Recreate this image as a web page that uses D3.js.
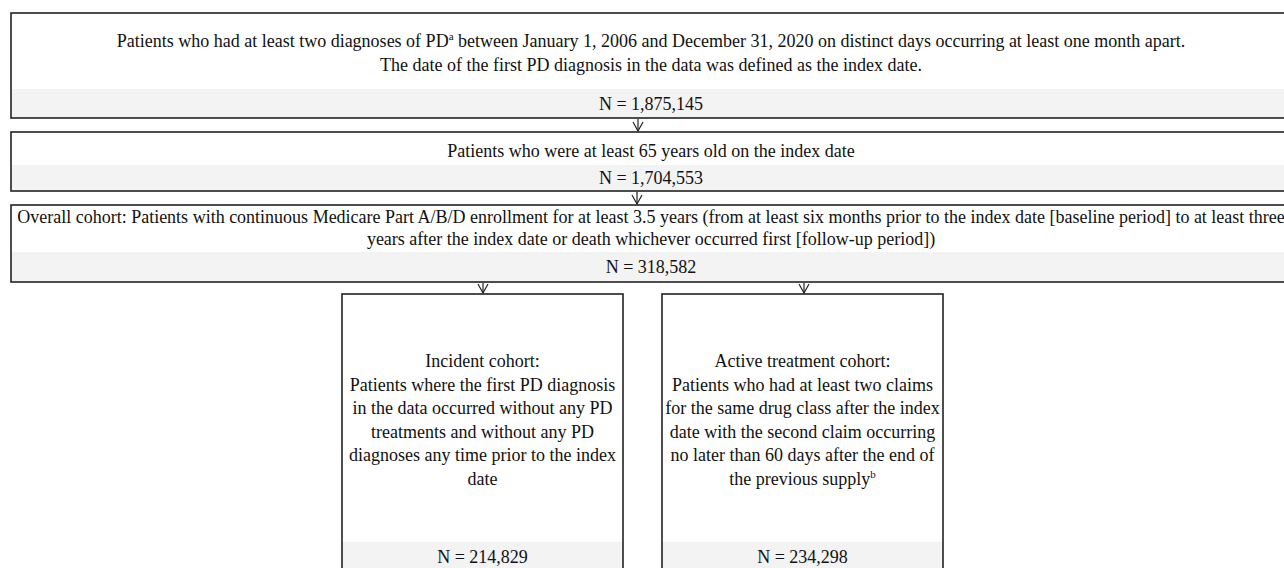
<!DOCTYPE html>
<html><head><meta charset="utf-8">
<script src="https://cdn.jsdelivr.net/npm/d3@7"></script>
<style>
body{margin:0;background:#fff}
svg{display:block}
text{font-family:"Liberation Serif","Times New Roman",serif;fill:#111;font-size:18px}
</style>
</head><body>
<svg id="c" width="1284" height="568"></svg>
<script>
// ---- data ----
const boxIds = ["pd", "age", "overall", "incident", "active"];
// each line is a list of [text, superscript]
const boxTexts = [
  [[["Patients who had at least two diagnoses of PD", "a"], [" between January 1, 2006 and December 31, 2020 on distinct days occurring at least one month apart.", ""]],
   [["The date of the first PD diagnosis in the data was defined as the index date.", ""]]],
  [[["Patients who were at least 65 years old on the index date", ""]]],
  [[["Overall cohort: Patients with continuous Medicare Part A/B/D enrollment for at least 3.5 years (from at least six months prior to the index date [baseline period] to at least three", ""]],
   [["years after the index date or death whichever occurred first [follow-up period])", ""]]],
  [[["Incident cohort:", ""]],
   [["Patients where the first PD diagnosis", ""]],
   [["in the data occurred without any PD", ""]],
   [["treatments and without any PD", ""]],
   [["diagnoses any time prior to the index", ""]],
   [["date", ""]]],
  [[["Active treatment cohort:", ""]],
   [["Patients who had at least two claims", ""]],
   [["for the same drug class after the index", ""]],
   [["date with the second claim occurring", ""]],
   [["no later than 60 days after the end of", ""]],
   [["the previous supply", "b"]]]
];
const boxCounts = [1875145, 1704553, 318582, 214829, 234298];
const links = [["pd", "age"], ["age", "overall"], ["overall", "incident"], ["overall", "active"]];

// ---- layout (positions kept in code) ----
const layout = {
  pd:       {x0: 11,  x1: 1292, y0: 13,  y1: 118, band: 89,  cx: 651, base0: 47,  lh: 24,   nBase: 110, ax: 638},
  age:      {x0: 11,  x1: 1292, y0: 132, y1: 191, band: 165, cx: 651, base0: 157, lh: 24,   nBase: 184, ax: 637},
  overall:  {x0: 11,  x1: 1292, y0: 205, y1: 282, band: 252, cx: 651, base0: 223, lh: 22,   nBase: 273},
  incident: {x0: 342, x1: 623,  y0: 294, y1: 620, band: 542, cx: 482.5, base0: 367, lh: 23.6, nBase: 563, ax: 483},
  active:   {x0: 662, x1: 943,  y0: 294, y1: 620, band: 542, cx: 802.5, base0: 367, lh: 23.6, nBase: 563, ax: 804}
};

const svg = d3.select("#c");
const fmt = d3.format(",");
const boxes = boxIds.map((id, i) => ({id, lines: boxTexts[i], n: boxCounts[i], ...layout[id]}));

const g = svg.selectAll("g.box").data(boxes).join("g").attr("class", "box");
g.append("rect").attr("x", d => d.x0).attr("y", d => d.y0)
  .attr("width", d => d.x1 - d.x0).attr("height", d => d.y1 - d.y0).attr("fill", "#fff");
g.append("rect").attr("x", d => d.x0).attr("y", d => d.band)
  .attr("width", d => d.x1 - d.x0).attr("height", d => d.y1 - d.band).attr("fill", "#f3f3f3");
g.append("rect").attr("x", d => d.x0).attr("y", d => d.y0)
  .attr("width", d => d.x1 - d.x0).attr("height", d => d.y1 - d.y0)
  .attr("fill", "none").attr("stroke", "#222").attr("stroke-width", 1.6);

g.each(function(d) {
  const sel = d3.select(this);
  d.lines.forEach((segs, li) => {
    const t = sel.append("text").attr("x", d.cx).attr("y", d.base0 + li * d.lh).attr("text-anchor", "middle");
    let shifted = false;
    segs.forEach(([txt, sup]) => {
      const ts = t.append("tspan").text(txt);
      if (shifted) { ts.attr("dy", 7); shifted = false; }
      if (sup) {
        t.append("tspan").attr("dy", -7).attr("font-size", "11px").text(sup);
        shifted = true;
      }
    });
  });
  sel.append("text").attr("x", d.cx).attr("y", d.nBase).attr("text-anchor", "middle").text("N = " + fmt(d.n));
});

// arrows
const byId = Object.fromEntries(boxes.map(b => [b.id, b]));
links.forEach(([s, t]) => {
  const a = byId[s], b = byId[t];
  const x = (s === "overall") ? b.ax : a.ax;
  const yA = a.y1 + 1, yB = b.y0 - 1;
  svg.append("line").attr("x1", x).attr("x2", x).attr("y1", yA).attr("y2", yB)
    .attr("stroke", "#222").attr("stroke-width", 1.2);
  svg.append("path").attr("d", `M${x - 5},${yB - 9}L${x},${yB}L${x + 5},${yB - 9}`)
    .attr("fill", "none").attr("stroke", "#222").attr("stroke-width", 1.2);
});
</script>
</body></html>
